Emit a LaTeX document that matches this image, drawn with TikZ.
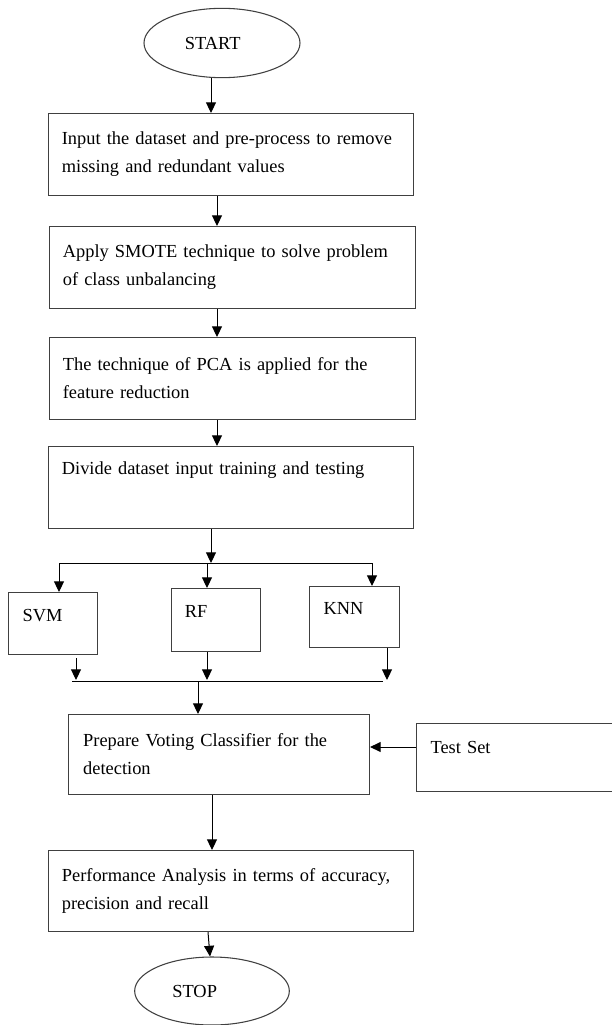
\documentclass[tikz,border=0pt]{standalone}
\usepackage{fontspec}
\setmainfont{Liberation Serif}
\usetikzlibrary{arrows.meta, shapes.geometric, positioning}

\begin{document}
\begin{tikzpicture}[x=0.75pt, y=-0.75pt, >={Triangle[length=8pt, width=7.5pt]},
  every node/.style={font=\fontsize{13.8}{21}\selectfont},
  procbox/.style={draw=black!75, line width=0.8pt, rectangle, anchor=north west, align=left, inner xsep=10pt, inner ysep=6pt},
  oneline/.style 2 args={text height=#1, text depth=#2},
  terminal/.style={draw=black!75, line width=0.8pt, ellipse, inner sep=0pt},
  arr/.style={->, line width=0.75pt},
  link/.style={line width=0.75pt}]
\useasboundingbox (0,0) rectangle (611,1025);
\node[terminal, minimum width=117pt, minimum height=52pt] (start) at (222,43) {START\hspace*{14pt}};
\node[procbox, text width=253.75pt, minimum height=61.5pt] (input) at (48,113)
  {Input the dataset and pre-process to remove\\missing and redundant values};
\node[procbox, text width=254.5pt, minimum height=61.5pt] (smote) at (49,226)
  {Apply SMOTE technique to solve problem\\of class unbalancing};
\node[procbox, text width=254.5pt, minimum height=61.5pt] (pca) at (49,337)
  {The technique of PCA is applied for the\\feature reduction};
\node[procbox, text width=253.75pt, oneline={15pt}{34.5pt}] (divide) at (48,446)
  {Divide dataset input training and testing};
\node[procbox, text width=45.75pt, inner xsep=10.5pt, oneline={15.75pt}{18.75pt}] (svm) at (8,592) {SVM};
\node[procbox, text width=46.75pt, oneline={15.75pt}{19.5pt}] (rf) at (171,588) {RF};
\node[procbox, text width=46.5pt, inner xsep=10.5pt, oneline={15pt}{18.75pt}] (knn) at (309,586) {KNN};
\node[procbox, text width=203.75pt, inner xsep=11pt, minimum height=60pt] (vote) at (68,714)
  {Prepare Voting Classifier for the\\detection};
\node[procbox, text width=126pt, inner xsep=10.5pt, oneline={16.5pt}{22.5pt}] (test) at (416,723) {Test Set};
\node[procbox, text width=253.75pt, minimum height=60.75pt] (perf) at (48,850)
  {Performance Analysis in terms of accuracy,\\precision and recall};
\node[terminal, minimum width=116pt, minimum height=51pt] (stop) at (212,991) {STOP\hspace*{26pt}};
% spine positions
\coordinate (s1) at (211,0);
\coordinate (s2) at (217,0);
\coordinate (split) at (211,563);
\coordinate (merge) at (198,681);
\coordinate (s3) at (212,0);
\coordinate (side) at (0,747);
\draw[arr] (start.south -| s1) -- (input.north -| s1);
\draw[arr] (input.south -| s2) -- (smote.north -| s2);
\draw[arr] (smote.south -| s2) -- (pca.north -| s2);
\draw[arr] (pca.south -| s2) -- (divide.north -| s2);
\draw[arr] (divide.south -| split) -- (split);
\draw[link] (59,563) -- (372,563);
\draw[arr] (59,563) -- (svm.north -| 59,0);
\draw[arr] (207,563) -- (rf.north -| 207,0);
\draw[arr] (372,563) -- (knn.north -| 372,0);
\draw[arr] ([yshift=-2.25pt]svm.south -| 76,0) -- (76,680);
\draw[arr] (rf.south -| 207,0) -- (207,680);
\draw[arr] (knn.south -| 387,0) -- (387,680);
\draw[link] (72,681) -- (383,681);
\draw[arr] (merge) -- (vote.north -| merge);
\draw[arr] (test.west |- side) -- (vote.east |- side);
\draw[arr] (vote.south -| s3) -- (perf.north -| s3);
\draw[arr] ([xshift=-3pt]perf.south -| s3) -- ([xshift=-1.5pt]stop.north);
\end{tikzpicture}
\end{document}
